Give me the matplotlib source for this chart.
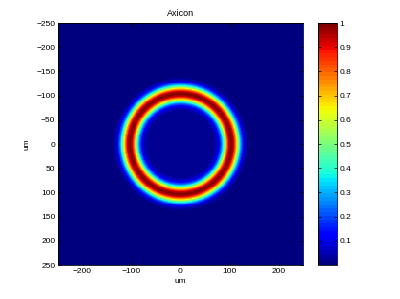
import numpy as np
import matplotlib
matplotlib.use('Agg')
import matplotlib.pyplot as plt

# radial intensity profile of the ring (um, normalized)
radius_um = [0, 4, 10, 60, 70, 78, 84, 89, 94, 99, 104, 109, 114, 119, 124, 130, 136, 145, 400]
intensity = [0.05, 0.02, 0.02, 0.02, 0.03, 0.09, 0.25, 0.47, 0.72, 0.93, 1.0, 0.93, 0.72, 0.47, 0.25, 0.08, 0.02, 0.0, 0.0]

extent_um = 250
n_pix = 256
xticks = [-200, -100, 0, 100, 200]
yticks = [-250, -200, -150, -100, -50, 0, 50, 100, 150, 200, 250]
cticks = [0.1, 0.2, 0.3, 0.4, 0.5, 0.6, 0.7, 0.8, 0.9, 1]

plt.rcParams['font.family'] = ['Liberation Sans', 'DejaVu Sans']
plt.rcParams['font.size'] = 6

coords = np.linspace(-extent_um, extent_um, n_pix)
xx, yy = np.meshgrid(coords, coords)
img = np.interp(np.hypot(xx, yy), radius_um, intensity)

fig = plt.figure(figsize=(4, 2.99), dpi=100)
ax = fig.add_axes([0.145, 0.1137, 0.6125, 0.809])
im = ax.imshow(img, cmap=plt.get_cmap('jet', 64), vmin=0, vmax=1,
               extent=[-extent_um, extent_um, extent_um, -extent_um],
               aspect='auto', interpolation='nearest')
ax.set_xticks(xticks)
ax.set_yticks(yticks)
ax.tick_params(direction='in', top=True, right=True, length=2, width=0.5, pad=2)
ax.set_title('Axicon', fontsize=6.5, pad=5)
ax.set_xlabel('um', labelpad=2)
ax.set_ylabel('um', labelpad=4)
for s in ax.spines.values():
    s.set_linewidth(0.6)

cax = fig.add_axes([0.795, 0.1137, 0.0475, 0.809])
cb = fig.colorbar(im, cax=cax)
cb.set_ticks(cticks)
cb.set_ticklabels([f'{t:g}' for t in cticks])
cax.tick_params(direction='in', left=True, right=True, length=2, width=0.5, pad=2)
cb.outline.set_linewidth(0.6)

fig.savefig('out.png', dpi=100)
